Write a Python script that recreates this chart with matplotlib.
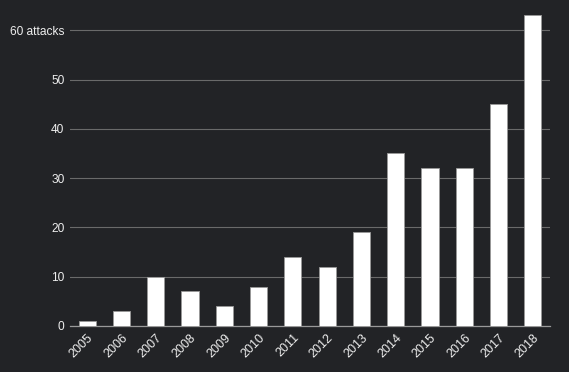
import numpy as np
import matplotlib.pyplot as plt

plt.rcParams['font.family'] = ['Liberation Sans', 'DejaVu Sans']

# Attack counts per year
years = ['2005', '2006', '2007', '2008', '2009', '2010', '2011',
         '2012', '2013', '2014', '2015', '2016', '2017', '2018']
attacks = [1, 3, 10, 7, 4, 8, 14, 12, 19, 35, 32, 32, 45, 63]
y_ticks = [0, 10, 20, 30, 40, 50, 60]
y_tick_labels = ['0', '10', '20', '30', '40', '50', '60 attacks']

bg = '#222326'

fig = plt.figure(figsize=(5.69, 3.72), dpi=100, facecolor=bg)
ax = fig.add_axes([70 / 569, 46 / 372, 480 / 569, 315.5 / 372], facecolor=bg)

x = np.arange(len(years))
ax.bar(x, attacks, width=0.5, color='white', edgecolor='#999999', linewidth=0.6, zorder=3)

ax.set_xlim(-0.5, len(years) - 0.5)
ax.set_ylim(0, 64)
ax.set_yticks(y_ticks)
ax.set_yticklabels(y_tick_labels)
ax.set_xticks(x)
ax.set_xticklabels(years, rotation=45, ha='right', rotation_mode='anchor')

ax.tick_params(axis='both', length=0, colors='#eeeeee')
ax.tick_params(axis='y', pad=4, labelsize=8.6)
ax.tick_params(axis='x', pad=4, labelsize=9)

for s in ['top', 'right', 'left']:
    ax.spines[s].set_visible(False)
ax.spines['bottom'].set_color('#999999')
ax.spines['bottom'].set_linewidth(0.9)

ax.yaxis.grid(True, color='#6a6a6a', linewidth=0.8)
ax.set_axisbelow(True)

fig.savefig('out.png', dpi=100, facecolor=bg)
